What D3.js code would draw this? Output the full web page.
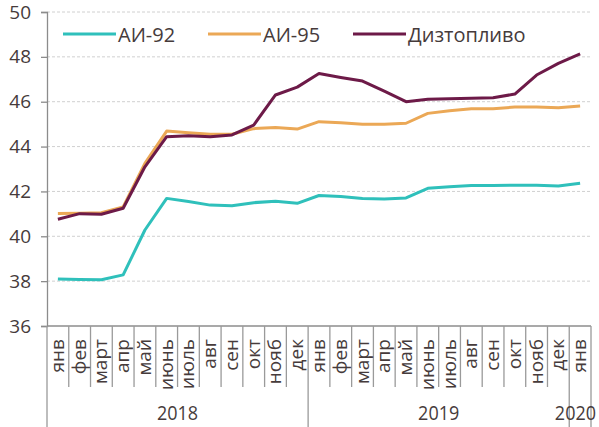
<!DOCTYPE html>
<html><head><meta charset="utf-8">
<script src="https://cdn.jsdelivr.net/npm/d3@7"></script>
<style>body{margin:0;background:#fff;} text{font-family:"Open Sans","Noto Sans",sans-serif;}</style>
</head><body><svg id="c" width="599" height="427"></svg>
<script>
const months = ["янв","фев","март","апр","май","июнь","июль","авг","сен","окт","нояб","дек",
                "янв","фев","март","апр","май","июнь","июль","авг","сен","окт","нояб","дек","янв"];
const years = [{label:"2018", start:0, n:12},{label:"2019", start:12, n:12},{label:"2020", start:24, n:1}];
const ai92 = [38.10,38.07,38.06,38.28,40.28,41.69,41.55,41.39,41.36,41.50,41.56,41.47,
              41.82,41.77,41.69,41.66,41.71,42.14,42.21,42.26,42.26,42.28,42.27,42.24,42.36];
const ai95 = [41.02,41.03,41.05,41.31,43.25,44.69,44.62,44.55,44.55,44.80,44.85,44.78,
              45.11,45.06,44.99,44.99,45.04,45.48,45.60,45.69,45.69,45.76,45.76,45.73,45.81];
const diesel = [40.76,41.01,40.98,41.25,43.10,44.44,44.48,44.44,44.52,44.96,46.30,46.65,
                47.26,47.08,46.92,46.47,46.00,46.11,46.13,46.16,46.18,46.34,47.19,47.71,48.13];
const yTicks = [36,38,40,42,44,46,48,50];
const series = [
  {name:"АИ-92", values:ai92, color:"#2fc0bb"},
  {name:"АИ-95", values:ai95, color:"#eba856"},
  {name:"Дизтопливо", values:diesel, color:"#6d1a48"}
];

const svg = d3.select("#c");
const W = 599;
const L = 47, R = 591, T = 12, B = 326;
const idx = d3.range(months.length);
const x = d3.scaleBand().domain(idx).range([L, R]).padding(0);
const y = d3.scaleLinear().domain([36,50]).range([B, T]);
const textColor = "#463b3b";

// gridlines
svg.append("g").selectAll("line").data(yTicks.filter(v=>v>36)).join("line")
  .attr("x1", L).attr("x2", R).attr("y1", d=>y(d)).attr("y2", d=>y(d))
  .attr("stroke", "#d0d0d0").attr("stroke-dasharray","3,2").attr("stroke-width",1);

// y axis
const yAxis = svg.append("g").attr("transform", `translate(${L},0)`)
  .call(d3.axisLeft(y).tickValues(yTicks).tickSize(6).tickPadding(10).tickFormat(d3.format("d")));
yAxis.select(".domain").attr("stroke","#8c8c8c").attr("stroke-width",1.3);
yAxis.selectAll(".tick line").attr("stroke","#8c8c8c").attr("stroke-width",1.3);
yAxis.selectAll(".tick text").attr("fill",textColor).style("font-size","19px");

// x axis line
svg.append("line").attr("x1", L).attr("x2", R).attr("y1", B).attr("y2", B)
  .attr("stroke","#8c8c8c").attr("stroke-width",1.5);

// month separators
const bw = x.bandwidth();
const boundaries = d3.range(months.length + 1);
const yearBounds = new Set([0,12,24,25]);
svg.append("g").selectAll("line").data(boundaries).join("line")
  .attr("x1", d => L + d*bw).attr("x2", d => L + d*bw)
  .attr("y1", B).attr("y2", d => yearBounds.has(d) ? 427 : 387)
  .attr("stroke","#9a9a9a").attr("stroke-width",1.3);

// month labels
svg.append("g").selectAll("text").data(idx).join("text")
  .attr("transform", d => `translate(${x(d)+bw/2+6},339) rotate(-90)`)
  .attr("text-anchor","end")
  .attr("fill", textColor).style("font-size","19px")
  .text(d => months[d]);

// year labels (kept inside the picture, like the original)
svg.append("g").selectAll("text").data(years).join("text")
  .attr("text-anchor","middle")
  .attr("fill", textColor).style("font-size","18px")
  .text(d => d.label)
  .each(function(d){
    const w = this.getComputedTextLength();
    let cx = L + (d.start + d.n/2)*bw;
    cx = Math.min(cx, W - 3 - w/2);
    d3.select(this).attr("transform", `translate(${cx},420) scale(1,1.15)`);
  });

// lines
const line = d3.line().x((d,i)=>x(i)+bw/2).y(d=>y(d));
svg.append("g").selectAll("path").data(series).join("path")
  .attr("d", d => line(d.values)).attr("fill","none")
  .attr("stroke", d=>d.color).attr("stroke-width",3).attr("stroke-linejoin","round");

// legend
const lg = [{s:series[0], x:63},{s:series[1], x:208},{s:series[2], x:353}];
const leg = svg.append("g");
lg.forEach(o=>{
  leg.append("line").attr("x1",o.x).attr("x2",o.x+53).attr("y1",34).attr("y2",34)
    .attr("stroke",o.s.color).attr("stroke-width",3);
  leg.append("text").attr("x",o.x+55).attr("y",41.5).attr("fill",textColor)
    .style("font-size","20px").text(o.s.name);
});
</script></body></html>
